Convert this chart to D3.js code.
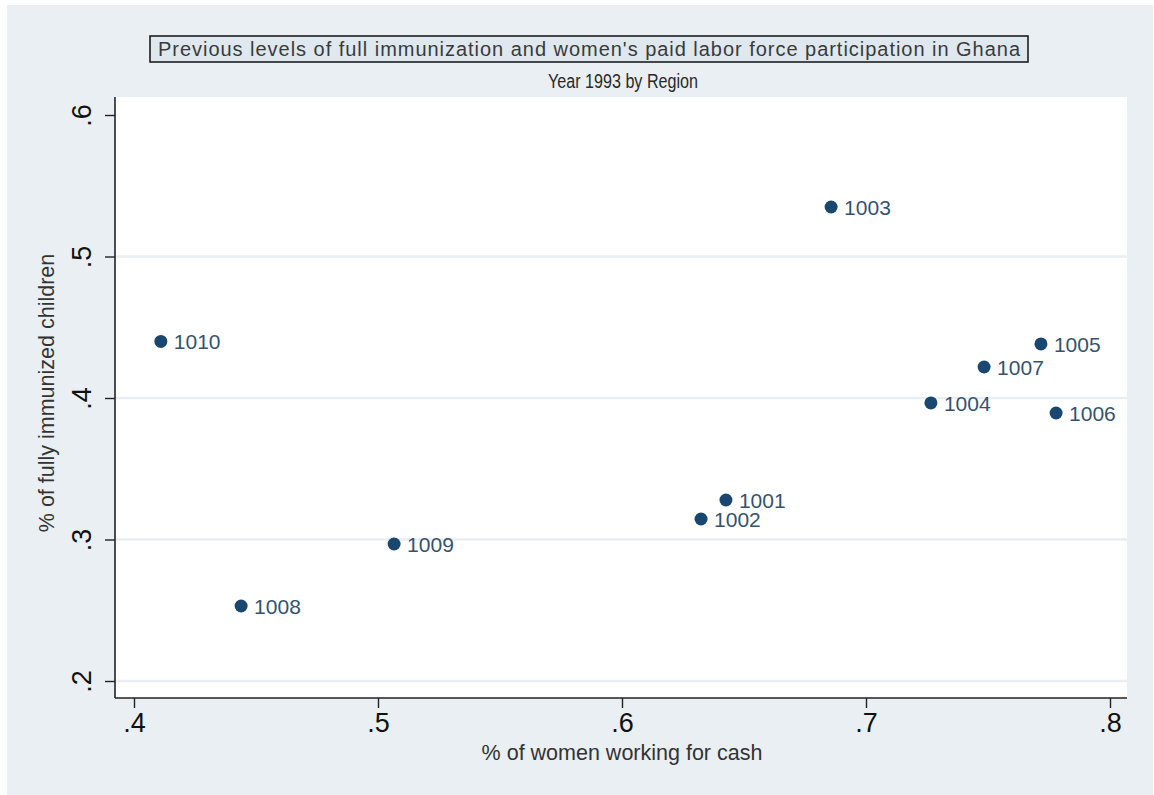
<!DOCTYPE html>
<html>
<head>
<meta charset="utf-8">
<script src="https://cdn.jsdelivr.net/npm/d3@7"></script>
<style>
  html, body { margin: 0; padding: 0; background: #ffffff; }
  svg { display: block; font-family: "Liberation Sans", Arial, sans-serif; }
</style>
</head>
<body>
<svg id="chart" width="1154" height="795"></svg>
<script>
// Region codes and their values
const regions = ["1001", "1002", "1003", "1004", "1005", "1006", "1007", "1008", "1009", "1010"];
const womenCash = [0.6426, 0.6324, 0.6857, 0.7266, 0.7717, 0.7779, 0.7484, 0.4439, 0.5066, 0.4110];
const immunized = [0.3279, 0.3145, 0.5350, 0.3965, 0.4382, 0.3894, 0.4219, 0.2530, 0.2968, 0.4400];
const xTicks = [0.4, 0.5, 0.6, 0.7, 0.8];
const yTicks = [0.2, 0.3, 0.4, 0.5, 0.6];
const yGrid = [0.2, 0.3, 0.4, 0.5];
const tickFmt = v => d3.format(".1f")(v).replace(/^0/, "");

const titleText = "Previous levels of full immunization and women's paid labor force participation in Ghana";
const subtitleText = "Year 1993 by Region";
const xTitle = "% of women working for cash";
const yTitle = "% of fully immunized children";

const W = 1154, H = 795;
const plot = { left: 115, right: 1127, top: 97, bottom: 698 };
const navy = "#1a476f";

const svg = d3.select("#chart");

// graph region background
svg.append("rect").attr("x", 7).attr("y", 5).attr("width", W - 8).attr("height", H - 5)
  .attr("fill", "#e9eff2");

const x = d3.scaleLinear().domain([0.4, 0.8]).range([134, 1110]);
const y = d3.scaleLinear().domain([0.2, 0.6]).range([681, 115]);

// plot region
svg.append("rect")
  .attr("x", plot.left).attr("y", plot.top)
  .attr("width", plot.right - plot.left).attr("height", plot.bottom - plot.top)
  .attr("fill", "#ffffff");

// horizontal grid lines
svg.append("g").selectAll("line").data(yGrid).join("line")
  .attr("x1", plot.left).attr("x2", plot.right)
  .attr("y1", d => y(d)).attr("y2", d => y(d))
  .attr("stroke", "#e8eef2").attr("stroke-width", 2.5);

// y axis
const yAxis = svg.append("g")
  .attr("transform", `translate(${plot.left},0)`)
  .call(d3.axisLeft(y).tickValues(yTicks).tickFormat(tickFmt).tickSize(10).tickSizeOuter(0));
yAxis.select(".domain").attr("d", `M0,${plot.top}V${plot.bottom}`).attr("stroke", "#222").attr("stroke-width", 1.6);
yAxis.selectAll(".tick line").attr("stroke", "#222").attr("stroke-width", 1.4);
yAxis.selectAll(".tick text")
  .attr("x", null).attr("dy", null)
  .attr("transform", "translate(-24,0) rotate(-90)")
  .attr("text-anchor", "middle")
  .attr("fill", "#111")
  .style("font-size", "27px")
  .style("font-family", "\"Liberation Sans\", Arial, sans-serif");

// x axis
const xAxis = svg.append("g")
  .attr("transform", `translate(0,${plot.bottom})`)
  .call(d3.axisBottom(x).tickValues(xTicks).tickFormat(tickFmt).tickSize(10).tickSizeOuter(0));
xAxis.select(".domain").attr("d", `M${plot.left},0H${plot.right}`).attr("stroke", "#222").attr("stroke-width", 1.6);
xAxis.selectAll(".tick line").attr("stroke", "#222").attr("stroke-width", 1.4);
xAxis.selectAll(".tick text")
  .attr("y", 34).attr("dy", null)
  .attr("fill", "#111")
  .style("font-size", "27px")
  .style("font-family", "\"Liberation Sans\", Arial, sans-serif");

// axis titles
svg.append("text")
  .attr("x", 622).attr("y", 760)
  .attr("text-anchor", "middle").attr("fill", "#333")
  .style("font-size", "21.5px")
  .text(xTitle);

svg.append("text")
  .attr("transform", "translate(54,393) rotate(-90)")
  .attr("text-anchor", "middle").attr("fill", "#333")
  .style("font-size", "21.5px")
  .text(yTitle);

// title box
svg.append("rect")
  .attr("x", 150).attr("y", 36).attr("width", 878).attr("height", 26)
  .attr("fill", "#dfe8ee").attr("stroke", "#111").attr("stroke-width", 1.5);
svg.append("text")
  .attr("x", 589).attr("y", 56)
  .attr("text-anchor", "middle").attr("fill", "#3a3a3a")
  .attr("textLength", 862).attr("lengthAdjust", "spacing")
  .style("font-size", "20px")
  .text(titleText);

svg.append("text")
  .attr("x", 623).attr("y", 88)
  .attr("text-anchor", "middle").attr("fill", "#2a2a2a")
  .attr("textLength", 150).attr("lengthAdjust", "spacingAndGlyphs")
  .style("font-size", "19.5px")
  .text(subtitleText);

// markers and labels
const pts = regions.map((r, i) => ({ r, vx: womenCash[i], vy: immunized[i] }));
const gp = svg.append("g");
gp.selectAll("circle").data(pts).join("circle")
  .attr("cx", d => x(d.vx)).attr("cy", d => y(d.vy))
  .attr("r", 6.5).attr("fill", navy);
gp.selectAll("text").data(pts).join("text")
  .attr("x", d => x(d.vx) + 13).attr("y", d => y(d.vy))
  .attr("dy", "0.36em")
  .attr("fill", "#34536f")
  .style("font-size", "21px")
  .text(d => d.r);
</script>
</body>
</html>
